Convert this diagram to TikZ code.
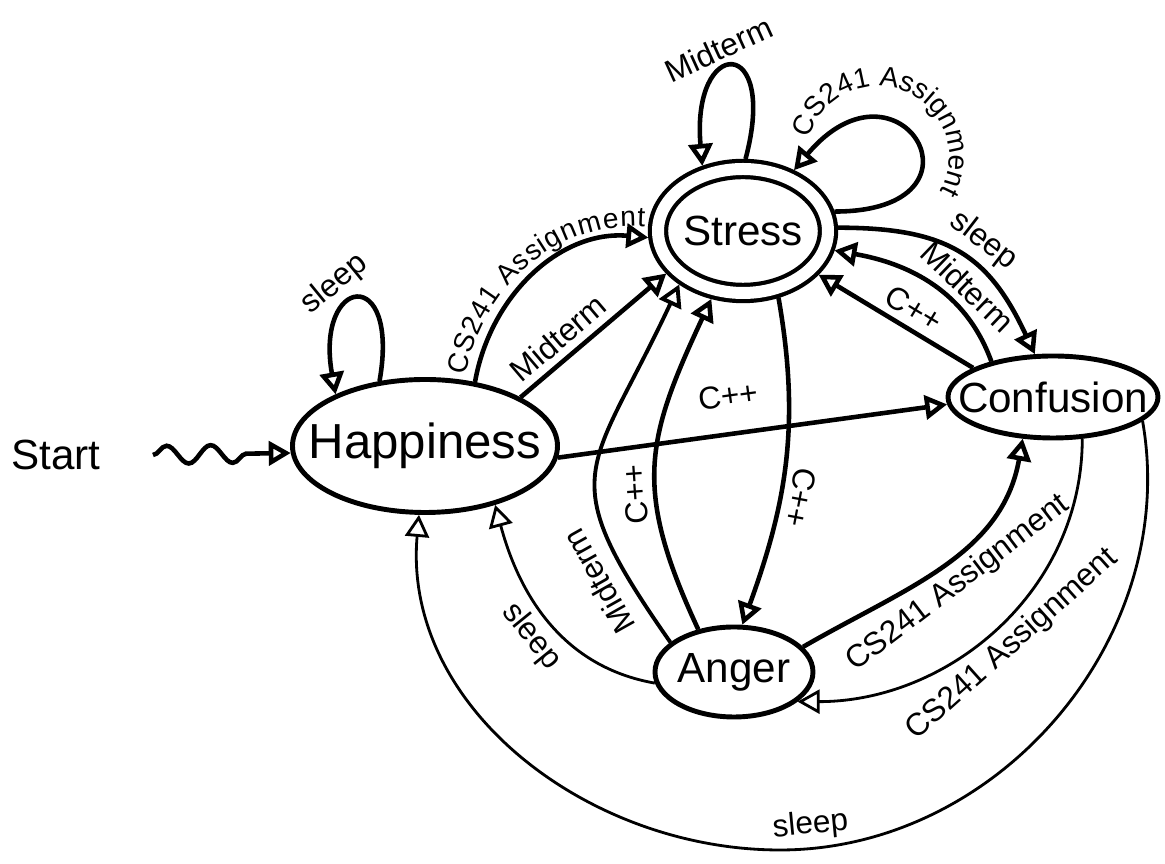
\documentclass[tikz,border=0pt]{standalone}
\usepackage{fontspec}
\setmainfont{Liberation Sans}
\usetikzlibrary{arrows.meta,shapes.geometric,decorations.pathmorphing,decorations.text}

\newcommand\zw[1]{\makebox[0pt]{#1}}

\tikzset{
  mood/.style={draw, ellipse, line width=1.4pt, inner sep=0pt, font=\fontsize{12}{14}\selectfont},
  tense/.style={double, double distance=0.12cm, line width=1.2pt, outer sep=0.1cm},
  link/.style={->, line width=1.3pt},
  thinlink/.style={->, line width=0.8pt},
  lbl/.style={font=\fontsize{9}{10}\selectfont, inner sep=2pt},
  >={Triangle[open, length=2.2mm, width=2.4mm]}
}

\begin{document}
\begin{tikzpicture}
\useasboundingbox (0,0) rectangle (11.65,-8.64);

% states
\node[mood, tense, minimum width=1.70cm, minimum height=1.24cm] (stress) at (7.43,-2.31) {\zw{Stress}};
\node[mood, minimum width=2.65cm, minimum height=1.33cm] (happy) at (4.25,-4.46) {\zw{\fontsize{14}{16}\selectfont Happiness}};
\node[mood, minimum width=2.10cm, minimum height=0.82cm] (conf) at (10.53,-3.97) {\zw{Confusion}};
\node[mood, minimum width=1.58cm, minimum height=0.90cm] (anger) at (7.34,-6.72) {\zw{Anger}};
\node[font=\fontsize{12}{14}\selectfont] (start) at (0.56,-4.55) {Start};
\coordinate (wave) at ([xshift=4mm]start.east);
\coordinate (dip) at (7.8,-8.5);

% start
\draw[link, decorate, decoration={snake, amplitude=0.9mm, segment length=4.4mm, post length=2.5mm}] (wave) -- (happy.183);

% loops
\draw[link] (happy.125) to[out=80, in=100, distance=1.2cm] node[lbl, pos=0.58, above, sloped] (hsleep) {sleep} (happy.150);
\draw[link] (stress.88) to[out=75, in=95, distance=1.3cm] node[lbl, pos=0.55, above, sloped] (smid) {Midterm} (stress.122);
\draw[link] (stress.12) to[out=0, in=50, distance=1.65cm] (stress.50);
\path[decorate, decoration={text along path, text align=left, text={|\fontsize{8}{10}\selectfont|CS241 Assignment}}]
  (8.78,-1.57) ++(165:0.71) arc[start angle=165, end angle=-85, radius=0.71];

% from happiness
\draw[link] (happy.52) to[out=80, in=175] (stress.184);
\path[decorate, decoration={text along path, text align=center, raise=3pt, text={|\fontsize{8}{10}\selectfont|CS241 Assignment}}]
  (happy.52) to[out=80, in=175] (stress.184);
\draw[link] (happy.27) -- node[lbl, pos=0.35, above, sloped] (hmid) {Midterm} (stress.209);
\draw[link] (happy.-5) -- node[lbl, pos=0.45, above=5pt, sloped] (hcpp) {C++} (conf.184);

% stress and confusion
\draw[link] (stress.2) to[out=0, in=115, looseness=1.2] node[lbl, pos=0.55, above, sloped] (ssleep) {sleep} (conf.113);
\draw[link] (conf.150) to[out=110, in=-10] node[lbl, pos=0.35, above, sloped] (cmid) {Midterm} (stress.-12);
\draw[link] (conf.160) -- node[lbl, pos=0.45, above, sloped] (ccpp) {C++} (stress.-30);

% stress and anger
\draw[link] (stress.-62) to[out=-80, in=70] node[lbl, pos=0.6, above, sloped, allow upside down] (scpp) {C++} (anger.80);
\draw[link] (anger.130) to[out=115, in=-115, looseness=1.2] node[lbl, pos=0.4, above, sloped, allow upside down] (acpp) {C++} (stress.245);
\draw[link, line width=1.1pt] (anger.155) to[out=125, in=-115, looseness=1.5] node[lbl, pos=0.17, above=2pt, sloped, allow upside down] (amid) {Midterm} (stress.220);

% back to happiness, confusion
\draw[thinlink] (anger.188) to[out=170, in=-75] node[lbl, pos=0.5, below, sloped] (asleep) {sleep} (happy.-40);
\draw[link] (anger.20) to[out=30, in=-100] node[lbl, pos=0.5, below, sloped] (acs) {CS241 Assignment} (conf.234);
\draw[thinlink] (conf.-55) to[out=-90, in=0] node[lbl, pos=0.5, below, sloped] (ccs) {CS241 Assignment} (anger.-25);
\draw[thinlink] (conf.-15) to[out=-80, in=0] node[lbl, pos=0.95, above, sloped] (csleep) {sleep} (dip) to[out=180, in=-95] (happy.265);
\end{tikzpicture}
\end{document}
